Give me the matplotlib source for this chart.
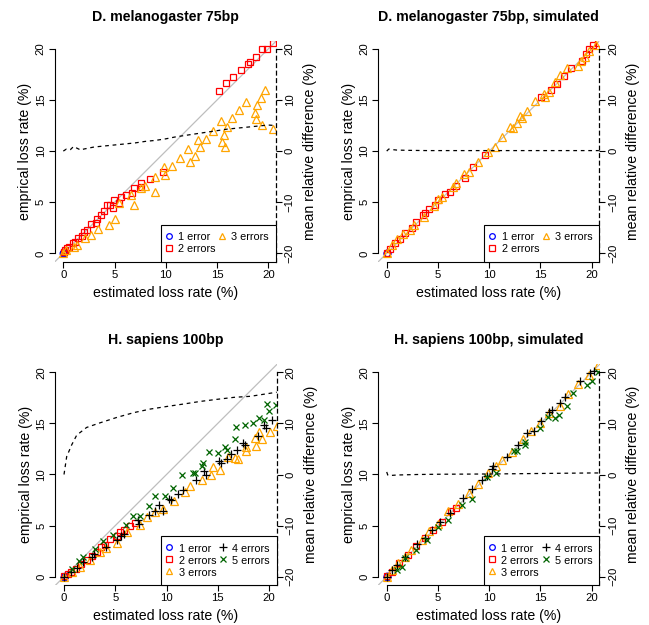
import matplotlib
matplotlib.use("Agg")
import matplotlib.pyplot as plt
from matplotlib.lines import Line2D

plt.rcParams['font.family'] = ['Liberation Sans', 'DejaVu Sans']

# ---- D. melanogaster 75bp (real) ----
dm_est_1 = [0.0, 0.05, 0.1]
dm_emp_1 = [0.0, 0.05, 0.1]
dm_est_2 = [20.5, 19.9, 19.4, 18.8, 18.2, 18.0, 17.3, 16.6, 15.9, 15.2, 9.7, 8.5, 7.6, 7.6, 6.9, 6.7,
            6.1, 5.6, 5.4, 4.95, 4.6, 4.8, 4.3, 4.0, 3.65, 3.3, 3.2, 2.7, 2.3, 2.0, 1.8, 1.4, 1.1,
            0.9, 0.55, 0.4, 0.2, 0.05]
dm_emp_2 = [20.6, 20.0, 20.0, 19.2, 18.7, 18.5, 17.9, 17.2, 16.7, 15.9, 8.0, 7.3, 6.85, 6.5, 6.35, 5.9,
            5.7, 5.5, 4.9, 5.2, 4.7, 4.4, 4.7, 4.1, 3.75, 3.4, 3.0, 2.9, 2.3, 2.1, 1.7, 1.5, 1.1,
            1.0, 0.65, 0.5, 0.3, 0.1]
dm_est_3 = [19.7, 19.3, 18.9, 18.7, 18.8, 19.4, 20.5, 17.8, 17.1, 16.5, 16.0, 15.4, 15.7, 15.5, 15.8,
            14.6, 13.9, 13.1, 13.3, 12.2, 12.8, 12.4, 11.4, 10.6, 9.8, 9.9, 8.9, 8.9, 8.0, 7.6, 6.9,
            6.6, 5.4, 5.0, 4.5, 3.4, 2.7, 2.1, 1.3, 1.0, 0.3, 0.0]
dm_emp_3 = [16.0, 15.2, 14.5, 13.7, 13.1, 12.6, 12.2, 14.8, 14.0, 13.2, 12.4, 12.9, 11.6, 10.9, 10.4,
            12.0, 11.2, 11.1, 10.4, 10.2, 9.55, 8.9, 9.3, 8.5, 8.4, 7.7, 7.5, 6.0, 6.6, 6.4, 4.7,
            5.7, 4.9, 3.4, 2.8, 2.4, 1.8, 1.5, 0.8, 0.65, 0.3, 0.0]
dm_diff_x = [0, 0.3, 0.7, 1.0, 1.3, 1.7, 2.0, 2.5, 3, 4, 5, 6, 7, 8, 9, 10, 11, 12, 13, 14, 15, 16,
             17, 18, 19, 20, 20.7]
dm_diff = [0, 0.4, 0.3, 0.9, 0.6, 0.2, 0.4, 0.6, 0.8, 1.0, 1.2, 1.4, 1.6, 1.9, 2.1, 2.4, 2.8, 3.1,
           3.4, 3.7, 4.0, 4.3, 4.5, 4.7, 4.9, 5.1, 5.0]

# ---- D. melanogaster 75bp, simulated ----
dms_est_1 = [0.0, 0.05]
dms_emp_1 = [0.0, 0.05]
dms_est_2 = [20.65, 20.1, 19.7, 19.4, 19.1, 18.0, 17.3, 16.6, 16.0, 15.1, 9.6, 8.4, 7.6, 6.8, 6.2,
             5.7, 5.0, 4.7, 4.1, 3.7, 3.5, 2.9, 2.5, 1.8, 1.3, 0.8, 0.3, 0.0]
dms_emp_2 = [20.6, 20.4, 20.0, 19.5, 18.8, 18.1, 17.3, 16.6, 16.0, 15.3, 9.6, 8.4, 7.4, 6.6, 6.0,
             5.8, 5.2, 4.7, 4.3, 3.9, 3.7, 3.1, 2.5, 2.0, 1.4, 1.0, 0.4, 0.0]
dms_est_3 = [20.4, 19.7, 19.3, 19.0, 18.7, 17.6, 16.9, 16.4, 15.8, 15.4, 15.3, 14.5, 13.7, 13.2, 13.0,
             12.7, 12.3, 12.0, 11.2, 10.6, 9.9, 8.9, 8.0, 7.5, 6.8, 6.5, 5.4, 5.0, 4.6, 3.6, 2.7,
             2.3, 1.6, 1.0, 0.5, 0.0]
dms_emp_3 = [20.4, 19.8, 19.2, 18.8, 18.3, 18.1, 17.4, 16.8, 15.8, 15.3, 15.6, 14.9, 13.9, 13.2, 13.4,
             12.7, 12.3, 12.4, 11.4, 10.4, 9.95, 8.9, 8.0, 7.8, 6.9, 6.5, 5.5, 5.3, 4.6, 3.6, 2.8,
             2.3, 1.9, 1.4, 0.8, 0.0]
dms_diff_x = [0, 0.2, 0.5, 1, 2, 4, 6, 8, 10, 12, 14, 16, 18, 20, 20.7]
dms_diff = [0, 0.4, 0.3, 0.2, 0.15, 0.1, 0.1, 0.1, 0.1, 0.1, 0.1, 0.1, 0.1, 0.1, 0.1]

# ---- H. sapiens 100bp (real) ----
hs_est_1 = [0.0, 0.05]
hs_emp_1 = [0.0, 0.05]
hs_est_2 = [6.9, 6.4, 5.9, 5.5, 5.2, 4.5, 4.0, 3.6, 3.2, 2.7, 2.2, 1.7, 1.2, 0.7, 0.4, 0.0]
hs_emp_2 = [5.3, 5.0, 4.6, 4.4, 4.0, 3.7, 3.1, 2.9, 2.4, 2.0, 1.6, 1.2, 0.8, 0.5, 0.3, 0.1]
hs_est_3 = [20.75, 20.1, 19.0, 19.3, 18.6, 18.7, 17.8, 17.8, 17.0, 16.7, 16.0, 15.2, 14.55, 14.3,
            13.5, 12.3, 11.85, 10.7, 9.7, 8.9, 8.1, 7.4, 6.1, 5.15, 4.1, 3.5, 2.5, 1.6, 0.75, 0.0]
hs_emp_3 = [14.7, 14.2, 14.2, 13.5, 13.6, 12.8, 12.7, 12.3, 11.5, 11.6, 11.75, 10.45, 10.7, 9.95,
            9.5, 8.9, 8.25, 7.4, 6.6, 6.3, 5.8, 5.05, 4.4, 3.3, 2.8, 2.45, 1.6, 1.0, 0.5, 0.0]
hs_est_4 = [20.3, 19.7, 19.5, 18.9, 17.5, 17.7, 16.9, 16.25, 15.9, 15.3, 15.1, 13.7, 13.9, 12.9, 11.6,
            11.1, 10.4, 10.2, 9.65, 9.3, 8.9, 8.25, 7.35, 7.2, 5.9, 5.6, 5.15, 4.1, 2.9, 2.7, 1.9,
            1.25, 0.7, 0.0]
hs_emp_4 = [15.3, 14.5, 14.8, 13.8, 13.1, 12.9, 12.4, 12.0, 11.55, 11.1, 11.35, 10.3, 9.95, 9.5, 8.5,
            8.05, 7.5, 7.6, 6.4, 7.0, 6.4, 6.0, 5.2, 5.55, 4.2, 4.0, 3.6, 2.9, 2.2, 1.95, 1.4,
            0.9, 0.5, 0.0]
hs_est_5 = [19.8, 20.0, 20.7, 19.0, 19.5, 18.4, 17.65, 16.8, 16.7, 15.7, 15.9, 15.0, 14.1, 13.6, 13.5,
            12.8, 12.6, 11.5, 10.6, 9.9, 8.9, 8.25, 7.4, 6.7, 6.0, 4.8, 3.85, 3.0, 1.9, 1.5, 0.75]
hs_emp_5 = [16.9, 16.2, 16.8, 15.5, 15.3, 15.0, 14.8, 14.6, 13.5, 12.7, 12.4, 12.1, 12.2, 11.1, 10.8,
            10.1, 10.1, 9.95, 8.7, 7.9, 7.9, 6.95, 5.9, 5.9, 5.05, 4.1, 3.5, 2.7, 1.95, 1.5, 0.8]
hs_diff_x = [0, 0.26, 0.75, 1.24, 2.2, 3.5, 5.2, 6.8, 8.4, 10.0, 11.7, 13.3, 14.9, 16.6, 18.2, 19.8,
             20.75]
hs_diff = [0, 3.5, 5.8, 7.7, 9.2, 10.1, 11.2, 12.1, 12.8, 13.3, 13.8, 14.3, 14.7, 15.1, 15.3, 15.8,
           16.1]

# ---- H. sapiens 100bp, simulated ----
hss_est_1 = [0.0, 0.05]
hss_emp_1 = [0.0, 0.05]
hss_est_2 = [0.0, 0.5, 1.2, 2.1, 2.9, 3.7, 4.55, 5.4, 6.3, 6.8]
hss_emp_2 = [0.1, 0.5, 1.3, 2.1, 3.0, 3.8, 4.6, 5.4, 6.4, 6.75]
hss_est_3 = [20.65, 19.7, 18.7, 17.7, 16.9, 15.8, 15.0, 14.1, 13.3, 12.2, 11.2, 10.7, 9.9, 8.9, 8.0,
             7.0, 6.0, 5.0, 4.1, 3.4, 2.4, 1.8, 1.1, 0.5, 0.0]
hss_emp_3 = [20.7, 19.7, 18.9, 17.9, 16.7, 16.0, 15.0, 14.3, 13.5, 12.2, 11.4, 10.8, 10.1, 9.1, 8.2,
             7.1, 6.4, 5.2, 4.5, 3.6, 2.6, 1.95, 1.3, 0.65, 0.0]
hss_est_4 = [20.2, 19.8, 18.9, 17.4, 16.9, 16.1, 15.8, 15.1, 14.4, 13.65, 12.8, 11.7, 10.4, 10.3,
             9.75, 9.3, 8.3, 7.4, 6.2, 5.2, 4.4, 3.7, 3.0, 1.8, 1.0, 0.5, 0.0]
hss_emp_4 = [20.1, 19.9, 19.15, 17.55, 16.97, 16.3, 16.1, 15.2, 14.3, 14.1, 12.9, 11.75, 10.8, 10.5,
             9.9, 9.5, 8.55, 7.7, 6.2, 5.4, 4.6, 3.75, 3.2, 1.95, 1.15, 0.65, 0.0]
hss_est_5 = [20.65, 20.0, 19.5, 18.2, 17.6, 16.85, 16.4, 15.7, 15.0, 13.5, 13.5, 12.7, 12.4, 10.7,
             9.75, 8.3, 7.3, 6.0, 5.0, 3.9, 2.9, 1.8, 1.5, 1.0]
hss_emp_5 = [20.0, 19.15, 18.8, 18.0, 16.7, 15.8, 15.5, 15.6, 14.5, 12.9, 13.2, 12.3, 12.3, 10.1,
             9.8, 7.65, 7.0, 5.55, 4.9, 3.6, 2.6, 1.8, 1.0, 0.65]
hss_diff_x = [0, 0.1, 0.3, 1, 3, 5, 10, 15, 20, 20.7]
hss_diff = [0.5, -0.1, -0.2, -0.1, 0.0, 0.05, 0.1, 0.2, 0.3, 0.3]

labels = ["1 error", "2 errors", "3 errors", "4 errors", "5 errors"]
markers = ["o", "s", "^", "+", "x"]
colors = ["blue", "red", "orange", "black", "darkgreen"]
msizes = [4.8, 4.8, 5.8, 6.4, 5.0]

W, H = 649, 625
XL = (-0.85, 20.75)
YL = (-0.8, 20.8)


def panel(left, bottom, title, series, dx, dy):
    w, h = 221.4, 220.8
    ax = fig.add_axes([left / W, 1 - bottom / H, w / W, h / H])
    ax.plot([-2, 23], [-2, 23], color="#bebebe", lw=0.9, zorder=1)
    handles = []
    for i, (ex, em) in enumerate(series):
        face = "none" if markers[i] in "os^" else colors[i]
        ax.plot(ex, em, linestyle="none", marker=markers[i], ms=msizes[i], mec=colors[i],
                mfc=face, mew=0.9, zorder=3)
        handles.append(Line2D([], [], linestyle="none", marker=markers[i], ms=msizes[i] * 0.85,
                              mec=colors[i], mfc=face, mew=0.9))
    ax.set_xlim(*XL)
    ax.set_ylim(*YL)
    ax.set_xticks([0, 5, 10, 15, 20])
    ax.set_yticks([0, 5, 10, 15, 20])
    ax.spines["top"].set_visible(False)
    ax.spines["right"].set_visible(False)
    ax.spines["left"].set_bounds(0, 20)
    ax.spines["bottom"].set_bounds(0, 20)
    for s in ["left", "bottom"]:
        ax.spines[s].set_linewidth(0.8)
    ax.tick_params(direction="out", length=4.3, width=0.8, labelsize=8.2)
    ax.tick_params(axis="x", pad=1.5)
    ax.tick_params(axis="y", pad=2.0)
    for lab in ax.get_yticklabels():
        lab.set_rotation(90)
        lab.set_va("center")

    ax2 = ax.twinx()
    ax2.set_ylim(2 * YL[0] - 20, 2 * YL[1] - 20)
    ax2.plot(dx, dy, color="black", lw=0.9, linestyle=(0, (3, 3)), zorder=2)
    for s in ["top", "left", "bottom"]:
        ax2.spines[s].set_visible(False)
    ax2.spines["right"].set_linestyle((0, (3, 3)))
    ax2.spines["right"].set_linewidth(0.9)
    ax2.spines["right"].set_bounds(2 * YL[0] - 20, 20)
    ax2.set_yticks([-20, -10, 0, 10, 20])
    ax2.tick_params(direction="out", length=4.3, width=0.8, labelsize=8.2, pad=2.0)
    for lab in ax2.get_yticklabels():
        lab.set_rotation(90)
        lab.set_va("center")

    ax.set_title(title, fontweight="bold", fontsize=10.2, y=1 + 23.7 / h, va="center", pad=0)
    ax.set_xlabel("estimated loss rate (%)", fontsize=10.2, va="center")
    ax.xaxis.set_label_coords(0.5, -31.5 / h)
    ax.set_ylabel("emprical loss rate (%)", fontsize=10.2, va="center")
    ax.yaxis.set_label_coords(-29.3 / w, 0.5)
    ax2.set_ylabel("mean relative difference (%)", fontsize=10.2, rotation=90, va="center")
    ax2.yaxis.set_label_coords(1 + 34 / w, 0.5)

    leg = ax2.legend(handles, labels[:len(series)], ncol=2, loc="lower right",
                     bbox_to_anchor=(1, 0), bbox_transform=ax.transAxes, borderaxespad=0,
                     fancybox=False, edgecolor="black", framealpha=1, fontsize=7.8,
                     handlelength=0.2, handleheight=1.1, handletextpad=0.75, columnspacing=0.5,
                     borderpad=0.65, labelspacing=0.1)
    leg.get_frame().set_linewidth(0.8)
    return ax


fig = plt.figure(figsize=(W / 100, H / 100), dpi=100)

panel(54.6, 261.5, "D. melanogaster 75bp",
      [(dm_est_1, dm_emp_1), (dm_est_2, dm_emp_2), (dm_est_3, dm_emp_3)], dm_diff_x, dm_diff)
panel(378.0, 261.5, "D. melanogaster 75bp, simulated",
      [(dms_est_1, dms_emp_1), (dms_est_2, dms_emp_2), (dms_est_3, dms_emp_3)],
      dms_diff_x, dms_diff)
panel(55.3, 584.9, "H. sapiens 100bp",
      [(hs_est_1, hs_emp_1), (hs_est_2, hs_emp_2), (hs_est_3, hs_emp_3),
       (hs_est_4, hs_emp_4), (hs_est_5, hs_emp_5)], hs_diff_x, hs_diff)
panel(378.0, 584.9, "H. sapiens 100bp, simulated",
      [(hss_est_1, hss_emp_1), (hss_est_2, hss_emp_2), (hss_est_3, hss_emp_3),
       (hss_est_4, hss_emp_4), (hss_est_5, hss_emp_5)], hss_diff_x, hss_diff)

fig.savefig("out.png", dpi=100)
